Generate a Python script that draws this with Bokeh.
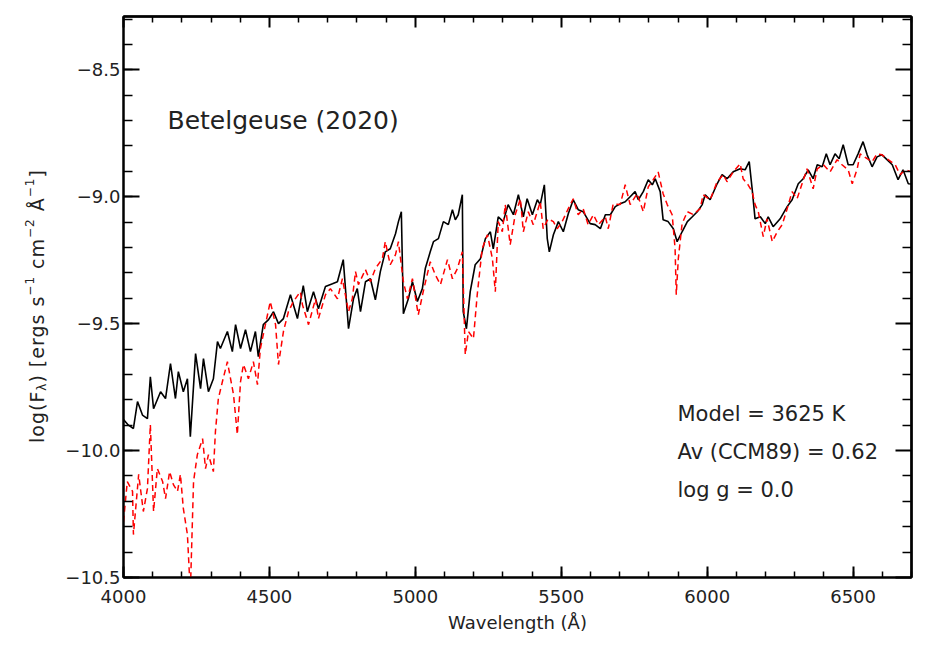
import math
from bokeh.plotting import figure
from bokeh.models import (ColumnDataSource, Range1d, LinearAxis, SingleIntervalTicker, FixedTicker,
                          CustomJSTickFormatter, Label, Div)
from bokeh.layouts import row
from bokeh.embed import file_html
from bokeh.resources import INLINE

# ---------------- data ----------------
obs_wave = [4000, 4017, 4034, 4048, 4065, 4082, 4092, 4103, 4127, 4144, 4161, 4178, 4188, 4205,
            4219, 4229, 4247, 4264, 4274, 4291, 4308, 4322, 4332, 4356, 4373, 4384, 4401, 4418,
            4435, 4452, 4462, 4479, 4497, 4514, 4531, 4548, 4572, 4596, 4616, 4630, 4651, 4668,
            4692, 4716, 4733, 4753, 4771, 4788, 4801, 4812, 4829, 4846, 4863, 4880, 4897, 4914,
            4932, 4942, 4952, 4959, 4976, 4990, 5007, 5024, 5034, 5051, 5062, 5079, 5096, 5113,
            5127, 5137, 5147, 5161, 5164, 5175, 5188, 5205, 5223, 5240, 5257, 5267, 5284, 5301,
            5318, 5336, 5353, 5370, 5383, 5401, 5418, 5428, 5442, 5452, 5459, 5473, 5490, 5507,
            5524, 5541, 5558, 5575, 5599, 5616, 5634, 5651, 5668, 5685, 5702, 5719, 5736, 5753,
            5764, 5781, 5798, 5812, 5822, 5839, 5849, 5866, 5884, 5897, 5914, 5932, 5949, 5966,
            5983, 5993, 6010, 6034, 6051, 6068, 6089, 6113, 6130, 6144, 6154, 6164, 6182, 6199,
            6209, 6226, 6250, 6274, 6291, 6312, 6329, 6346, 6363, 6377, 6394, 6408, 6421, 6438,
            6452, 6466, 6483, 6500, 6517, 6534, 6548, 6565, 6582, 6599, 6616, 6634, 6654, 6671,
            6689, 6700]
obs_logf = [-9.878, -9.900, -9.913, -9.807, -9.860, -9.874, -9.709, -9.835, -9.768, -9.795,
            -9.657, -9.795, -9.689, -9.768, -9.717, -9.945, -9.618, -9.756, -9.638, -9.768,
            -9.717, -9.571, -9.598, -9.531, -9.610, -9.504, -9.598, -9.524, -9.610, -9.531,
            -9.630, -9.504, -9.484, -9.453, -9.500, -9.480, -9.386, -9.480, -9.350, -9.453,
            -9.374, -9.441, -9.354, -9.343, -9.335, -9.248, -9.520, -9.402, -9.362, -9.453,
            -9.335, -9.323, -9.406, -9.295, -9.217, -9.205, -9.146, -9.098, -9.059, -9.461,
            -9.402, -9.335, -9.413, -9.362, -9.283, -9.217, -9.177, -9.165, -9.098, -9.110,
            -9.051, -9.091, -9.071, -8.992, -9.453, -9.520, -9.374, -9.268, -9.244, -9.165,
            -9.138, -9.205, -9.079, -9.098, -9.031, -9.071, -8.992, -9.079, -9.008, -9.071,
            -9.012, -9.031, -8.953, -9.165, -9.217, -9.150, -9.098, -9.138, -9.067, -9.012,
            -9.051, -9.059, -9.106, -9.110, -9.126, -9.071, -9.071, -9.039, -9.028, -9.020,
            -9.000, -8.980, -9.012, -8.980, -8.933, -8.953, -8.929, -8.980, -9.091, -9.098,
            -9.126, -9.177, -9.138, -9.098, -9.079, -9.059, -9.031, -8.992, -9.012, -8.949,
            -8.913, -8.929, -8.902, -8.890, -8.894, -8.862, -8.969, -9.087, -9.079, -9.106,
            -9.079, -9.118, -9.087, -9.039, -9.012, -8.949, -8.929, -8.894, -8.929, -8.874,
            -8.882, -8.831, -8.874, -8.831, -8.850, -8.795, -8.874, -8.874, -8.831, -8.783,
            -8.835, -8.882, -8.843, -8.835, -8.854, -8.874, -8.933, -8.894, -8.949, -8.950]

model_wave = [4000, 4013, 4031, 4034, 4052, 4068, 4082, 4092, 4103, 4116, 4134, 4144, 4158, 4171,
              4185, 4195, 4205, 4219, 4229, 4240, 4253, 4271, 4281, 4291, 4308, 4315, 4325, 4339,
              4356, 4377, 4390, 4401, 4411, 4428, 4445, 4459, 4469, 4479, 4503, 4521, 4531, 4548,
              4565, 4582, 4606, 4613, 4634, 4658, 4668, 4692, 4709, 4733, 4750, 4771, 4784, 4795,
              4805, 4829, 4846, 4863, 4887, 4897, 4914, 4932, 4942, 4959, 4973, 4990, 5010, 5027,
              5051, 5068, 5086, 5110, 5127, 5144, 5161, 5171, 5182, 5199, 5212, 5229, 5247, 5264,
              5274, 5284, 5298, 5308, 5325, 5342, 5360, 5370, 5387, 5404, 5428, 5438, 5455, 5473,
              5486, 5503, 5524, 5541, 5558, 5575, 5592, 5610, 5627, 5651, 5661, 5678, 5702, 5719,
              5736, 5760, 5781, 5798, 5815, 5832, 5849, 5863, 5880, 5890, 5894, 5901, 5914, 5932,
              5952, 5976, 5986, 6010, 6034, 6055, 6068, 6089, 6113, 6123, 6140, 6154, 6164, 6175,
              6192, 6205, 6223, 6240, 6257, 6274, 6291, 6308, 6325, 6342, 6363, 6377, 6398, 6421,
              6445, 6462, 6483, 6497, 6514, 6524, 6548, 6565, 6582, 6599, 6620, 6644, 6661, 6678,
              6700]
model_logf = [-10.280, -10.122, -10.161, -10.331, -10.094, -10.240, -10.150, -9.898, -10.240,
              -10.071, -10.122, -10.189, -10.083, -10.134, -10.161, -10.094, -10.228, -10.331,
              -10.560, -10.122, -10.016, -9.953, -10.071, -10.016, -10.083, -9.925, -9.795,
              -9.728, -9.650, -9.780, -9.937, -9.728, -9.661, -9.717, -9.650, -9.740, -9.598,
              -9.543, -9.413, -9.504, -9.661, -9.531, -9.453, -9.413, -9.374, -9.425, -9.504,
              -9.402, -9.480, -9.386, -9.362, -9.402, -9.323, -9.453, -9.402, -9.295, -9.346,
              -9.287, -9.335, -9.283, -9.244, -9.177, -9.268, -9.228, -9.177, -9.335, -9.402,
              -9.323, -9.465, -9.374, -9.256, -9.307, -9.346, -9.248, -9.323, -9.283, -9.217,
              -9.622, -9.531, -9.559, -9.386, -9.205, -9.150, -9.244, -9.374, -9.098, -9.138,
              -9.031, -9.189, -9.071, -9.008, -9.138, -9.059, -9.110, -9.020, -9.126, -9.087,
              -9.098, -9.126, -9.098, -9.047, -9.008, -9.071, -9.047, -9.110, -9.071, -9.110,
              -9.079, -9.126, -9.028, -9.031, -8.953, -9.031, -8.988, -9.059, -8.961, -8.933,
              -8.902, -8.988, -9.031, -9.071, -9.205, -9.386, -9.244, -9.106, -9.059, -9.070,
              -9.047, -8.992, -9.012, -8.941, -8.913, -8.941, -8.902, -8.870, -8.929, -8.953,
              -8.980, -9.031, -9.059, -9.157, -9.087, -9.177, -9.138, -9.110, -9.047, -8.980,
              -9.008, -8.949, -8.890, -8.969, -8.890, -8.874, -8.902, -8.854, -8.874, -8.894,
              -8.949, -8.890, -8.831, -8.850, -8.862, -8.831, -8.835, -8.854, -8.874, -8.913,
              -8.894, -8.902]

title_text = "Betelgeuse (2020)"
info_lines = ["Model = 3625 K", "Av (CCM89) = 0.62", "log g = 0.0"]
x_label = "Wavelength (Å)"
y_label_html = ("log(F<sub style='font-size:12px'>λ</sub>) [ergs s<sup style='font-size:12px'>−1</sup>"
                " cm<sup style='font-size:12px'>−2</sup> Å<sup style='font-size:12px'>−1</sup>]")

X_START, X_END, X_STEP, X_MINOR = 4000, 6700, 500, 100
Y_START, Y_END, Y_STEP, Y_MINOR = -10.5, -8.29, 0.5, 0.1

# ---------------- figure ----------------
FONT = "DejaVu Sans"
TXT = "#222222"
LEFT_W = 60

p = figure(width=924 - LEFT_W, height=644, output_backend="svg", toolbar_location=None,
           x_range=Range1d(X_START, X_END), y_range=Range1d(Y_START, Y_END),
           x_axis_type=None, y_axis_type=None,
           min_border_left=123 - LEFT_W, min_border_right=13, min_border_top=16, min_border_bottom=67)
p.outline_line_color = "black"
p.outline_line_width = 2
p.background_fill_color = "white"
p.border_fill_color = "white"

yfmt = CustomJSTickFormatter(code="return (tick < 0 ? '−' : '') + Math.abs(tick).toFixed(1);")


def style_axis(ax, major_len, minor_len):
    ax.axis_line_color = "black"
    ax.axis_line_width = 2
    ax.major_tick_in = major_len
    ax.major_tick_out = 0
    ax.minor_tick_in = minor_len
    ax.minor_tick_out = 0
    ax.major_tick_line_color = "black"
    ax.minor_tick_line_color = "black"
    ax.major_tick_line_width = 2
    ax.minor_tick_line_width = 1.5
    ax.major_label_text_font = FONT
    ax.major_label_text_color = TXT
    ax.major_label_text_font_size = "18px"


xb = LinearAxis(ticker=SingleIntervalTicker(interval=X_STEP, num_minor_ticks=5))
style_axis(xb, 11, 6)
xb.major_label_standoff = 12
xb.axis_label = x_label
xb.axis_label_text_font = FONT
xb.axis_label_text_font_size = "18px"
xb.axis_label_text_font_style = "normal"
xb.axis_label_text_color = TXT
xb.axis_label_standoff = 6
p.add_layout(xb, "below")

yl = LinearAxis(ticker=SingleIntervalTicker(interval=Y_STEP, num_minor_ticks=5), formatter=yfmt)
style_axis(yl, 16, 9)
yl.major_label_standoff = 3
p.add_layout(yl, "left")

# mirrored, label-free tick marks on the top and right edges
n_x = int(round((X_END - X_START) / X_MINOR))
x_major_pos = [X_START + X_MINOR * i for i in range(n_x + 1) if (X_MINOR * i) % X_STEP == 0]
x_minor_pos = [X_START + X_MINOR * i for i in range(n_x + 1) if (X_MINOR * i) % X_STEP != 0]
y_all = [round(Y_START + Y_MINOR * i, 2) for i in range(int(round((Y_END - Y_START) / Y_MINOR)) + 1)]
y_major_pos = [v for v in y_all if abs(v / Y_STEP - round(v / Y_STEP)) < 1e-6]
y_minor_pos = [v for v in y_all if v not in y_major_pos]

for side, majors, minors, big, small in [("above", x_major_pos, x_minor_pos, 11, 6),
                                         ("right", y_major_pos, y_minor_pos, 16, 9)]:
    for pos, length in [(majors, big), (minors, small)]:
        ax = LinearAxis(ticker=FixedTicker(ticks=[], minor_ticks=pos))
        style_axis(ax, length, length)
        ax.minor_tick_line_width = 2 if length == big else 1.5
        p.add_layout(ax, side)

# ---------------- spectra ----------------
obs_src = ColumnDataSource(dict(w=obs_wave, f=obs_logf))
mod_src = ColumnDataSource(dict(w=model_wave, f=model_logf))
p.line("w", "f", source=obs_src, line_color="black", line_width=1.6)
p.line("w", "f", source=mod_src, line_color="#ff0000", line_width=1.5, line_dash="6 4")

# ---------------- texts ----------------
p.add_layout(Label(x=44, y=457, x_units="screen", y_units="screen", text=title_text,
                   text_font=FONT, text_font_size="25px", text_color=TXT,
                   text_baseline="alphabetic"))
for yy, t in zip([164, 126, 88], info_lines):
    p.add_layout(Label(x=554, y=yy, x_units="screen", y_units="screen", text=t,
                       text_font=FONT, text_font_size="21px", text_color=TXT,
                       text_baseline="alphabetic"))

# y-axis title (with sub/superscripts) as rotated HTML text in a side column
ydiv = Div(
    text=("<div style=\"position:relative;width:%dpx;height:644px;\">"
          "<div style=\"position:absolute;left:19px;top:165px;height:282px;"
          "writing-mode:vertical-rl;transform:rotate(180deg);text-align:center;"
          "font-family:'DejaVu Sans';font-size:19px;letter-spacing:1px;color:%s;"
          "white-space:nowrap;line-height:22px;\">%s</div></div>") % (LEFT_W, TXT, y_label_html),
    width=LEFT_W, height=644, margin=0, styles={"overflow": "visible"})

layout = row(ydiv, p, spacing=0)
open("out.html", "w").write(file_html(layout, INLINE))
